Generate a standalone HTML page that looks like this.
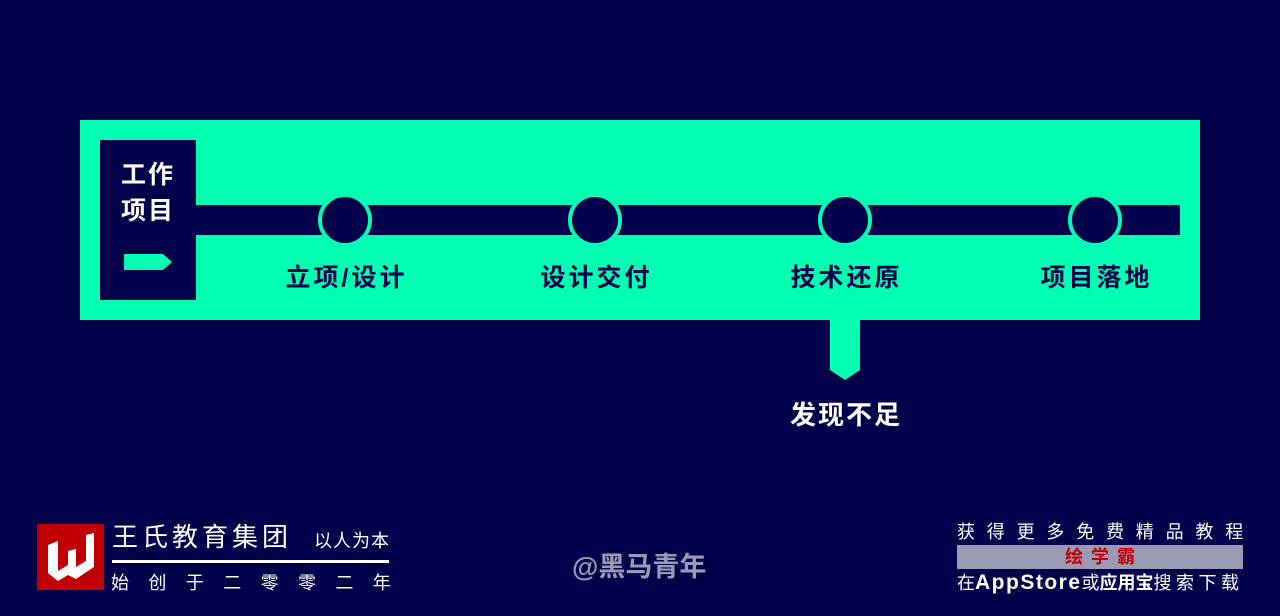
<!DOCTYPE html>
<html><head><meta charset="utf-8"><style>
*{margin:0;padding:0;box-sizing:border-box}
body{width:1280px;height:616px;background:#02004a;position:relative;overflow:hidden;font-family:"Liberation Sans","Noto Sans CJK SC",sans-serif}
.a{position:absolute}
.g{background:#00ffb0}
.d{background:#02004a}
.c{position:absolute;width:54px;height:54px;border-radius:50%;background:#02004a;border:4px solid #00ffb0;top:193px}
.lbl{position:absolute;top:258px;font-size:25px;font-weight:bold;color:#02004a;width:200px;text-align:center;letter-spacing:3px;text-indent:3px}
</style></head><body>
<div class="a g" style="left:80px;top:120px;width:1120px;height:200px"></div>
<div class="a d" style="left:100px;top:140px;width:96px;height:160px"></div>
<div class="a" style="left:121px;top:157px;color:#fff;font-size:25px;font-weight:bold;line-height:36px;letter-spacing:2px">工作<br>项目</div>
<svg class="a" style="left:124px;top:254px" width="50" height="16"><polygon points="0,0 39,0 48,8 39,16 0,16" fill="#00ffb0"/></svg>
<div class="a d" style="left:196px;top:205px;width:984px;height:30px"></div>
<div class="c" style="left:318px"></div>
<div class="c" style="left:568px"></div>
<div class="c" style="left:818px"></div>
<div class="c" style="left:1068px"></div>
<div class="lbl" style="left:245px">立项/设计</div>
<div class="lbl" style="left:495px">设计交付</div>
<div class="lbl" style="left:745px">技术还原</div>
<div class="lbl" style="left:995px">项目落地</div>
<svg class="a" style="left:830px;top:319px" width="30" height="62"><polygon points="0,0 30,0 30,51 15,61 0,51" fill="#00ffb0"/></svg>
<div class="a" style="left:745px;top:395px;width:200px;text-align:center;color:#fff;font-size:26px;font-weight:bold;letter-spacing:2px;text-indent:2px">发现不足</div>

<div class="a" style="left:37px;top:524px;width:67px;height:66px;background:#c00000"></div>
<svg class="a" style="left:44px;top:531px" width="54" height="52"><polygon points="4,14 14,10 14,40 24,34 24,20 32,18 32,36 42,30 42,4 50,2 50,36 32,48 24,44 14,50 4,42" fill="#fff"/></svg>
<div class="a" style="left:112px;top:517px;color:#fff;font-size:26px;letter-spacing:4px">王氏教育集团</div>
<div class="a" style="left:314px;top:527px;color:#fff;font-size:18px;letter-spacing:1px">以人为本</div>
<div class="a" style="left:112px;top:560px;width:277px;height:3px;background:#fff"></div>
<div class="a" style="left:111px;top:569px;color:#fff;font-size:18px;letter-spacing:19.4px;white-space:nowrap">始创于二零零二年</div>

<div class="a" style="left:572px;top:545px;color:#9a9ab4;font-size:27px;font-weight:bold">@黑马青年</div>

<div class="a" style="left:957px;top:518px;color:#fff;font-size:18px;letter-spacing:11.8px;white-space:nowrap">获得更多免费精品教程</div>
<div class="a" style="left:957px;top:545px;width:286px;height:24px;background:#9a9ab4;color:#c00000;font-size:18px;font-weight:bold;text-align:center;line-height:24px;letter-spacing:8px;text-indent:8px">绘学霸</div>
<div class="a" style="left:957px;top:569px;color:#fff;font-size:18px;white-space:nowrap">在<b style="font-size:21px;letter-spacing:1.5px">AppStore</b>或<b>应用宝</b><span style="letter-spacing:4.5px">搜索下载</span></div>
</body></html>
